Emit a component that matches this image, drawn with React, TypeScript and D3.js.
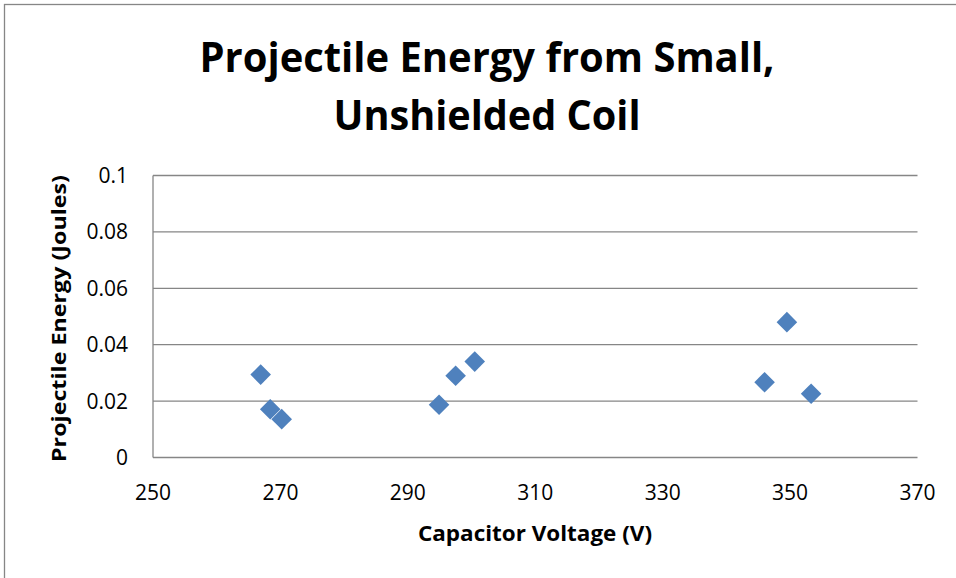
import React from "react";
import * as d3 from "d3";

const voltages = [266.9, 268.4, 270.2, 294.9, 297.5, 300.5, 346.0, 349.5, 353.3];
const energies = [0.0294, 0.0171, 0.0136, 0.0187, 0.029, 0.034, 0.0267, 0.048, 0.0226];
const xTicks = [250, 270, 290, 310, 330, 350, 370];
const yTicks = [0, 0.02, 0.04, 0.06, 0.08, 0.1];
const yTickLabels = ["0", "0.02", "0.04", "0.06", "0.08", "0.1"];
const titleLines = ["Projectile Energy from Small,", "Unshielded Coil"];
const xTitle = "Capacitor Voltage (V)";
const yTitle = "Projectile Energy (Joules)";

const W = 956;
const H = 578;
const FONT = "'Open Sans', 'Liberation Sans', sans-serif";

export default function App() {
  const x = d3.scaleLinear().domain([250, 370]).range([153, 917.5]);
  const y = d3.scaleLinear().domain([0, 0.1]).range([457.5, 175.5]);
  const r = 10.3;
  const diamondPath = `M0,${-r}L${r},0L0,${r}L${-r},0Z`;

  return (
    <div style={{ position: "fixed", left: 0, top: 0 }}>
      <svg width={W} height={H} style={{ display: "block", background: "#fff" }}>
        <rect x={4.5} y={4.5} width={W + 10} height={H + 10} fill="#fff" stroke="#868686" strokeWidth={1.3} />
        {titleLines.map((t, i) => (
          <text
            key={t}
            x={487}
            y={72 + i * 58}
            textAnchor="middle"
            fontFamily={FONT}
            fontWeight="bold"
            fontSize={42}
            textLength={i === 0 ? 575 : 307}
            lengthAdjust="spacingAndGlyphs"
            fill="#000"
          >
            {t}
          </text>
        ))}
        {yTicks.map((v) => (
          <line key={v} x1={x(250)} x2={x(370)} y1={y(v)} y2={y(v)} stroke="#868686" strokeWidth={1.3} />
        ))}
        <line x1={x(250)} x2={x(250)} y1={y(0.1)} y2={y(0)} stroke="#868686" strokeWidth={1.3} />
        {yTicks.map((v, i) => (
          <text key={v} x={128} y={y(v) + 7.5} textAnchor="end" fontFamily={FONT} fontSize={21} fill="#000">
            {yTickLabels[i]}
          </text>
        ))}
        {xTicks.map((v) => (
          <text key={v} x={x(v)} y={500} textAnchor="middle" fontFamily={FONT} fontSize={21} fill="#000">
            {v}
          </text>
        ))}
        <text
          x={535}
          y={541}
          textAnchor="middle"
          fontFamily={FONT}
          fontWeight="bold"
          fontSize={21}
          textLength={234}
          lengthAdjust="spacingAndGlyphs"
          fill="#000"
        >
          {xTitle}
        </text>
        <text
          transform={`translate(66,${(175 + 462) / 2}) rotate(-90)`}
          textAnchor="middle"
          fontFamily={FONT}
          fontWeight="bold"
          fontSize={20}
          textLength={287}
          lengthAdjust="spacingAndGlyphs"
          fill="#000"
        >
          {yTitle}
        </text>
        {voltages.map((v, i) => (
          <path
            key={i}
            d={diamondPath}
            transform={`translate(${x(v)},${y(energies[i])})`}
            fill="#4F81BD"
          />
        ))}
      </svg>
    </div>
  );
}
